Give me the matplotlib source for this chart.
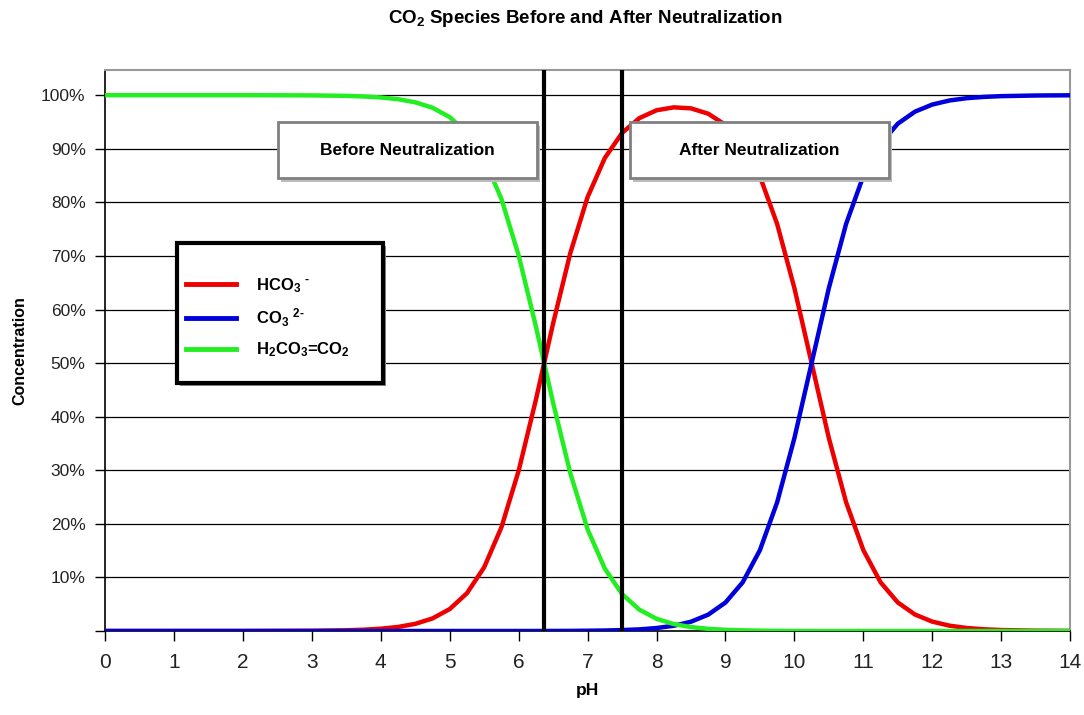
import matplotlib
matplotlib.use("Agg")
import matplotlib.pyplot as plt
from matplotlib.patches import Rectangle
from matplotlib.lines import Line2D

plt.rcParams['font.family'] = ['Liberation Sans', 'DejaVu Sans']
plt.rcParams['mathtext.default'] = 'regular'

# ---- data ----
ph = [0, 1, 2, 3, 3.5, 3.75, 4.0, 4.25, 4.5, 4.75, 5.0, 5.25, 5.5, 5.75, 6.0, 6.25,
      6.5, 6.75, 7.0, 7.25, 7.5, 7.75, 8.0, 8.25, 8.5, 8.75, 9.0, 9.25, 9.5, 9.75,
      10.0, 10.25, 10.5, 10.75, 11.0, 11.25, 11.5, 11.75, 12.0, 12.25, 12.5, 12.75,
      13.0, 13.5, 14.0]
hco3 = [0, 0, 0, 0.04, 0.13, 0.24, 0.43, 0.75, 1.33, 2.34, 4.09, 7.05, 11.89, 19.35,
        29.90, 43.14, 57.42, 70.56, 80.97, 88.27, 92.95, 95.71, 97.18, 97.73, 97.54,
        96.54, 94.46, 90.80, 84.85, 75.95, 64.00, 50.00, 36.00, 24.03, 15.10, 9.09,
        5.32, 3.07, 1.75, 0.99, 0.56, 0.32, 0.18, 0.06, 0.02]
co3 = [0, 0, 0, 0, 0, 0, 0, 0, 0, 0, 0, 0, 0, 0, 0, 0, 0.01, 0.02, 0.05, 0.09, 0.17,
       0.30, 0.55, 0.98, 1.73, 3.05, 5.31, 9.08, 15.09, 24.02, 35.99, 50.00, 64.00,
       75.97, 84.90, 90.91, 94.68, 96.93, 98.25, 99.01, 99.44, 99.68, 99.82, 99.94,
       99.98]
h2co3 = [100, 100, 100, 99.96, 99.87, 99.76, 99.57, 99.25, 98.67, 97.66, 95.91, 92.95,
         88.11, 80.65, 70.10, 56.86, 42.58, 29.42, 18.98, 11.64, 6.89, 3.99, 2.28,
         1.29, 0.72, 0.40, 0.22, 0.12, 0.06, 0.03, 0.015, 0, 0, 0, 0, 0, 0, 0, 0, 0,
         0, 0, 0, 0, 0]
neutral_lines = [6.37, 7.5]
series_labels = ['HCO$_3$ $^{\u2010}$', 'CO$_3$ $^{2\u2010}$', 'H$_2$CO$_3$=CO$_2$']
series_colors = ['#ee0000', '#0000dd', '#22ee22']
x_ticks = list(range(0, 15))
y_ticks = [0, 10, 20, 30, 40, 50, 60, 70, 80, 90, 100]

fig = plt.figure(figsize=(10.84, 7.15), dpi=100)
ax = fig.add_axes([0.0969, 0.1175, 0.8903, 0.7846])

ax.set_xlim(0, 14)
ax.set_ylim(0, 104.7)

# gridlines
for y in y_ticks[1:]:
    ax.axhline(y, color='black', lw=0.9, zorder=1)

# curves: red under blue under green
ax.plot(ph, hco3, color=series_colors[0], lw=3.2, zorder=3, solid_capstyle='butt')
ax.plot(ph, co3, color=series_colors[1], lw=3.2, zorder=4, solid_capstyle='butt')
ax.plot(ph, h2co3, color=series_colors[2], lw=3.2, zorder=5, solid_capstyle='butt')

for xv in neutral_lines:
    ax.axvline(xv, color='black', lw=3, zorder=6)

# ticks
ax.set_xticks(x_ticks)
ax.set_xticklabels([str(v) for v in x_ticks], fontsize=15, color='#222222')
ax.set_yticks(y_ticks)
ax.set_yticklabels(['' if v == 0 else f'{v}%' for v in y_ticks], fontsize=12.5,
                   color='#222222')
ax.tick_params(axis='both', direction='out', length=7, width=1, color='black')
ax.tick_params(axis='x', pad=9)
ax.tick_params(axis='y', pad=7)

for s in ['left', 'bottom']:
    ax.spines[s].set_color('black')
    ax.spines[s].set_linewidth(1.2)
for s in ['top', 'right']:
    ax.spines[s].set_color('#999999')
    ax.spines[s].set_linewidth(1.5)

ax.set_xlabel('pH', fontsize=12.5, fontweight='bold', labelpad=8)
ax.set_ylabel('Concentration', fontsize=11.5, fontweight='bold', labelpad=10)

fig.text(0.54, 0.974, r'CO$_2$ Species Before and After Neutralization',
         ha='center', va='center', fontsize=13.5, fontweight='bold')

# annotation boxes
def note_box(x0, x1, y0, y1, text):
    sh = Rectangle((x0 + 0.003, y0 - 0.006), x1 - x0, y1 - y0, transform=ax.transAxes,
                   facecolor='#bbbbbb', edgecolor='none', zorder=7)
    r = Rectangle((x0, y0), x1 - x0, y1 - y0, transform=ax.transAxes,
                  facecolor='white', edgecolor='#808080', lw=2, zorder=8)
    ax.add_patch(sh)
    ax.add_patch(r)
    ax.text((x0 + x1) / 2, (y0 + y1) / 2, text, transform=ax.transAxes, ha='center',
            va='center', fontsize=12.5, fontweight='bold', zorder=9)

note_box(0.179, 0.448, 0.807, 0.907, 'Before Neutralization')
note_box(0.544, 0.812, 0.807, 0.907, 'After Neutralization')

# legend box
lx0, lx1, ly0, ly1 = 0.0746, 0.288, 0.442, 0.692
ax.add_patch(Rectangle((lx0 + 0.003, ly0 - 0.006), lx1 - lx0, ly1 - ly0,
                       transform=ax.transAxes, facecolor='#888888', edgecolor='none',
                       zorder=9))
ax.add_patch(Rectangle((lx0, ly0), lx1 - lx0, ly1 - ly0, transform=ax.transAxes,
                       facecolor='white', edgecolor='black', lw=3, zorder=10))
handles = [Line2D([0], [0], color=c, lw=3.5) for c in series_colors]
leg = ax.legend(handles, series_labels, loc='upper left',
                bbox_to_anchor=(lx0 + 0.002, ly1 - 0.047), frameon=False,
                prop={'weight': 'bold', 'size': 12}, handlelength=3.0,
                handletextpad=1.2, labelspacing=0.7, borderaxespad=0)
leg.set_zorder(11)

fig.savefig('out.png', dpi=100)
